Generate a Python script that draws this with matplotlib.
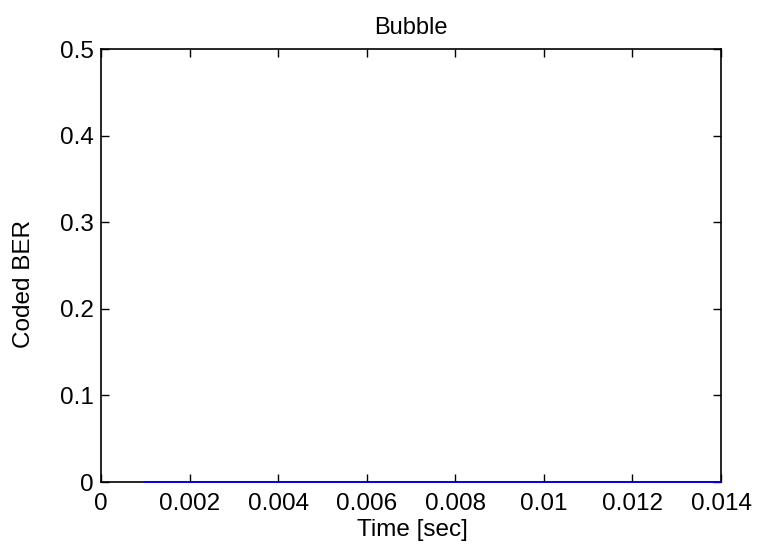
import numpy as np
import matplotlib
matplotlib.use("Agg")
import matplotlib.pyplot as plt

plt.rcParams['font.family'] = ['Liberation Sans', 'DejaVu Sans']

# Coded BER over time for the bubble channel
time_sec = [0.001, 0.002, 0.003, 0.004, 0.005, 0.006, 0.007,
            0.008, 0.009, 0.010, 0.011, 0.012, 0.013, 0.014]
coded_ber = [0, 0, 0, 0, 0, 0, 0, 0, 0, 0, 0, 0, 0, 0]

xticks = [0, 0.002, 0.004, 0.006, 0.008, 0.010, 0.012, 0.014]
xtick_labels = ['0', '0.002', '0.004', '0.006', '0.008', '0.01', '0.012', '0.014']
yticks = [0, 0.1, 0.2, 0.3, 0.4, 0.5]
ytick_labels = ['0', '0.1', '0.2', '0.3', '0.4', '0.5']

fig = plt.figure(figsize=(7.58, 5.49), dpi=100)
ax = fig.add_axes([0.1332, 0.122, 0.818, 0.7887])

ax.plot(time_sec, coded_ber, color='blue', lw=1.2, clip_on=False, zorder=3)

ax.set_xlim(0, 0.014)
ax.set_ylim(0, 0.5)
ax.set_xticks(xticks)
ax.set_xticklabels(xtick_labels)
ax.set_yticks(yticks)
ax.set_yticklabels(ytick_labels)
ax.tick_params(direction='in', top=True, right=True, length=6, width=1,
               labelsize=17.5)
ax.tick_params(axis='x', pad=8)
ax.tick_params(axis='y', pad=5)
for s in ax.spines.values():
    s.set_linewidth(1.2)

ax.set_xlabel('Time [sec]', fontsize=17.5)
ax.set_ylabel('Coded BER', fontsize=17.5)
ax.xaxis.set_label_coords(0.502, -0.086)
ax.yaxis.set_label_coords(-0.106, 0.458)
ax.set_title('Bubble', fontsize=17, pad=11)

fig.savefig('out.png', dpi=100)
